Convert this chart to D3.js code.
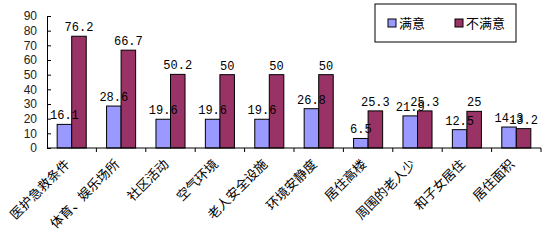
<!DOCTYPE html>
<html lang="zh">
<head>
<meta charset="utf-8" />
<title>满意度</title>
<style>
  body { margin: 0; background: #fff; }
  svg { display: block; }
  .val { font-family: "Liberation Mono", "DejaVu Sans Mono", monospace; font-size: 12px; fill: #000; }
  .cat { font-family: "Noto Sans CJK SC", sans-serif; font-size: 13px; fill: #000; }
  .yax text { font-family: Arial, "Liberation Sans", sans-serif; font-size: 12px; fill: #222; }
  .leg { font-family: "Noto Sans CJK SC", sans-serif; font-size: 13px; fill: #000; }
</style>
</head>
<body>
<div id="chart"></div>
<script src="https://cdn.jsdelivr.net/npm/d3@7"></script>
<script>

var categories = ["医护急救条件", "体育、娱乐场所", "社区活动", "空气环境", "老人安全设施",
                  "环境安静度", "居住高楼", "周围的老人少", "和子女居住", "居住面积"];
var series = ["满意", "不满意"];
var satisfied = [16.1, 28.6, 19.6, 19.6, 19.6, 26.8, 6.5, 21.9, 12.5, 14.3];
var unsatisfied = [76.2, 66.7, 50.2, 50, 50, 50, 25.3, 25.3, 25, 13.2];
var yTicks = [0, 10, 20, 30, 40, 50, 60, 70, 80, 90];
var colors = ["#9999ff", "#993366"];

var width = 546, height = 244;
var plotLeft = 47, plotRight = 541, plotTop = 16, plotBottom = 148;

var svg = d3.select("#chart").append("svg")
    .attr("width", width)
    .attr("height", height);

var y = d3.scaleLinear().domain([0, 90]).range([plotBottom, plotTop]);
var x0 = d3.scaleBand().domain(categories).range([plotLeft, plotRight]).padding(0);
var x1 = d3.scaleBand().domain(series).range([0, x0.bandwidth()]).paddingInner(0).paddingOuter(0.7);

var rows = categories.map(function(c, i) {
  return { cat: c, vals: [satisfied[i], unsatisfied[i]] };
});

// bars
var groups = svg.selectAll("g.grp").data(rows).enter().append("g")
    .attr("class", "grp")
    .attr("transform", function(d) { return "translate(" + x0(d.cat) + ",0)"; });

groups.selectAll("rect").data(function(d) {
    return d.vals.map(function(v, j) { return { s: series[j], v: v, j: j }; });
  }).enter().append("rect")
    .attr("x", function(d) { return x1(d.s); })
    .attr("y", function(d) { return y(d.v); })
    .attr("width", x1.bandwidth())
    .attr("height", function(d) { return plotBottom - y(d.v); })
    .attr("fill", function(d) { return colors[d.j]; })
    .attr("stroke", "#000")
    .attr("stroke-width", 1);

groups.selectAll("text.val").data(function(d) {
    return d.vals.map(function(v, j) { return { s: series[j], v: v }; });
  }).enter().append("text")
    .attr("class", "val")
    .attr("text-anchor", "middle")
    .attr("x", function(d) { return x1(d.s) + x1.bandwidth() / 2; })
    .attr("y", function(d) { return y(d.v) - 5; })
    .text(function(d) { return d.v; });

// y axis
var yAxis = d3.axisLeft(y).tickValues(yTicks).tickSize(-4).tickPadding(10).tickSizeOuter(0);
var ya = svg.append("g").attr("class", "yax")
    .attr("transform", "translate(" + plotLeft + ",0)")
    .call(yAxis);
ya.select(".domain").attr("stroke", "#000");
ya.selectAll(".tick line").attr("stroke", "#000");

// x axis baseline and ticks between categories
svg.append("line")
    .attr("x1", plotLeft).attr("x2", plotRight)
    .attr("y1", plotBottom).attr("y2", plotBottom)
    .attr("stroke", "#000");
svg.selectAll("line.xt").data(categories).enter().append("line")
    .attr("class", "xt")
    .attr("x1", function(d) { return x0(d) + x0.bandwidth(); })
    .attr("x2", function(d) { return x0(d) + x0.bandwidth(); })
    .attr("y1", plotBottom).attr("y2", plotBottom + 4)
    .attr("stroke", "#000");

// category labels rotated
svg.selectAll("text.cat").data(categories).enter().append("text")
    .attr("class", "cat")
    .attr("text-anchor", "end")
    .attr("transform", function(d) {
      return "translate(" + (x0(d) + x0.bandwidth() / 2 - 1) + "," + (plotBottom + 17) + ") rotate(-45)";
    })
    .text(function(d) { return d; });

// legend
var leg = svg.append("g");
leg.append("rect")
    .attr("x", 375).attr("y", 4).attr("width", 141).attr("height", 38)
    .attr("fill", "#fff").attr("stroke", "#000");
var li = leg.selectAll("g.li").data(series).enter().append("g")
    .attr("transform", function(d, i) { return "translate(" + (388 + i * 67) + ",0)"; });
li.append("rect")
    .attr("x", 0).attr("y", 19).attr("width", 8).attr("height", 8)
    .attr("fill", function(d, i) { return colors[i]; })
    .attr("stroke", "#000");
li.append("text")
    .attr("class", "leg")
    .attr("x", 11).attr("y", 28)
    .text(function(d) { return d; });

</script>
</body>
</html>
